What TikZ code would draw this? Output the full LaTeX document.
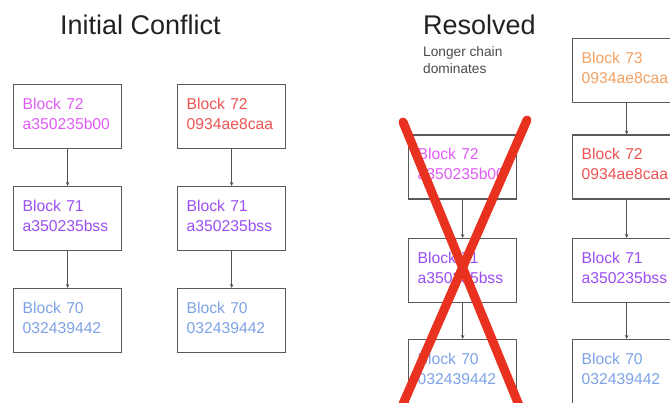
\documentclass[tikz,border=0pt]{standalone}
\usepackage{fontspec}
\setmainfont{Liberation Sans}
\usetikzlibrary{arrows.meta}
\definecolor{framegray}{HTML}{5A5A5A}
\definecolor{titlegray}{HTML}{222222}
\definecolor{notegray}{HTML}{4A4A4A}
\definecolor{hashmagenta}{HTML}{E25CF8}
\definecolor{hashred}{HTML}{EE5454}
\definecolor{hashpurple}{HTML}{9B4FF2}
\definecolor{hashblue}{HTML}{7EA3E6}
\definecolor{hashorange}{HTML}{F2A264}
\definecolor{crossred}{HTML}{E8321F}
\tikzset{
  blockbox/.style={draw=framegray, line width=1.3pt, fill=white, anchor=north west,
    minimum width=108pt, minimum height=64pt, text width=90pt, inner xsep=9pt,
    align=left, font=\fontsize{15.7}{20}\selectfont,
    execute at end node={\rule[-6pt]{0pt}{0pt}}},
  link/.style={draw=framegray!90!black, line width=0.9pt,
    -{Stealth[length=4pt,width=3.5pt]}},
  heading/.style={anchor=base west, inner sep=0pt, text=titlegray,
    font=\fontsize{27}{30}\selectfont},
  note/.style={anchor=base west, inner sep=0pt, text=notegray, align=left,
    font=\fontsize{13.7}{17}\selectfont},
  crossline/.style={draw=crossred, line width=9pt, line cap=round}
}
\begin{document}
\begin{tikzpicture}[x=1pt, y=-1pt]
\useasboundingbox (0,0) rectangle (670,403);
\clip (0,0) rectangle (670,403);

% headings
\node[heading] (t1) at (60,35) {Initial Conflict};
\node[heading] (t2) at (423,35) {Resolved};
\node[note] (n1) at (423,74) {Longer chain\\dominates};

% initial conflict: two competing chains
\node[blockbox, text=hashmagenta] (a1) at (13,84) {Block 72\\a350235b00};
\node[blockbox, text=hashpurple]  (a2) at (13,186) {Block 71\\a350235bss};
\node[blockbox, text=hashblue]    (a3) at (13,288) {Block 70\\032439442};

\node[blockbox, text=hashred]     (b1) at (177,84) {Block 72\\0934ae8caa};
\node[blockbox, text=hashpurple]  (b2) at (177,186) {Block 71\\a350235bss};
\node[blockbox, text=hashblue]    (b3) at (177,288) {Block 70\\032439442};

\draw[link] (a1.south) -- (a2.north);
\draw[link] (a2.south) -- (a3.north);
\draw[link] (b1.south) -- (b2.north);
\draw[link] (b2.south) -- (b3.north);

% resolved: the shorter chain is discarded
\node[blockbox, text=hashmagenta] (c1) at (408,134.5) {Block 72\\a350235b00};
\node[blockbox, text=hashpurple]  (c2) at (408,238) {Block 71\\a350235bss};
\node[blockbox, text=hashblue]    (c3) at (408,339) {Block 70\\032439442};

\node[blockbox, text=hashorange]  (d0) at (572,38) {Block 73\\0934ae8caa};
\node[blockbox, text=hashred]     (d1) at (572,134.5) {Block 72\\0934ae8caa};
\node[blockbox, text=hashpurple]  (d2) at (572,238) {Block 71\\a350235bss};
\node[blockbox, text=hashblue]    (d3) at (572,339) {Block 70\\032439442};

\draw[link] (c1.south) -- (c2.north);
\draw[link] (c2.south) -- (c3.north);
\draw[link] (d0.south) -- (d1.north);
\draw[link] (d1.south) -- (d2.north);
\draw[link] (d2.south) -- (d3.north);

% red cross over the losing chain
\coordinate (x1a) at (403,122);
\coordinate (x1b) at (525,420);
\coordinate (x2a) at (527,120);
\coordinate (x2b) at (396,420);
\draw[crossline] (x1a) -- (x1b);
\draw[crossline] (x2a) -- (x2b);
\end{tikzpicture}
\end{document}
